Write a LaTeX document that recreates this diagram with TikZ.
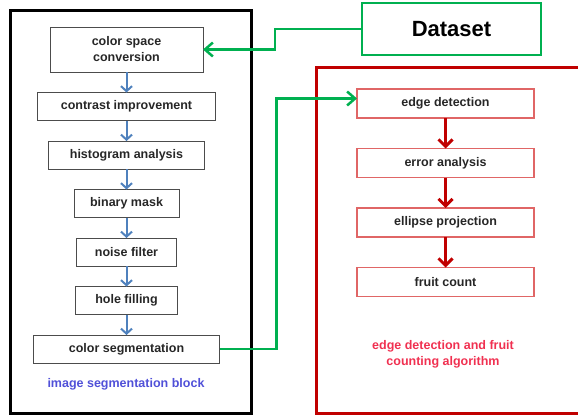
\documentclass[tikz,border=0pt]{standalone}
\usepackage{fontspec}
\setmainfont{Liberation Sans}
\usetikzlibrary{arrows.meta,positioning}
\definecolor{segblue}{HTML}{4F81BD}
\definecolor{dsgreen}{HTML}{00B050}
\definecolor{algred}{HTML}{C00000}
\definecolor{boxred}{HTML}{E06666}
\definecolor{lblblue}{HTML}{5050D8}
\definecolor{lblred}{HTML}{F03050}
\tikzset{
  segbox/.style={draw=black!70, line width=1pt, outer sep=0pt, align=center, minimum height=28pt, inner sep=2pt, text=black!85, font=\bfseries\fontsize{12.5}{16}\selectfont},
  edgebox/.style={draw=boxred, line width=1.2pt, outer sep=0pt, align=center, minimum width=177pt, minimum height=29pt, inner sep=2pt, text=black!85, font=\bfseries\fontsize{12.5}{16}\selectfont},
  dsbox/.style={draw=dsgreen, line width=2.5pt, outer sep=0pt, align=center, minimum width=179pt, minimum height=52pt, font=\bfseries\fontsize{22}{26}\selectfont},
  blocklabel/.style={align=center, inner sep=0pt, font=\bfseries\fontsize{12.5}{16}\selectfont},
  bluearrow/.style={-{Straight Barb[length=5pt,width=11pt]}, segblue, line width=2pt},
  redarrow/.style={-{Straight Barb[length=7pt,width=14pt]}, algred, line width=3pt},
  greenarrow/.style={-{Straight Barb[length=8pt,width=14pt]}, dsgreen, line width=2.5pt}
}
\begin{document}
\begin{tikzpicture}[x=1pt, y=-1pt, node distance=20.5pt]
  \useasboundingbox (0,0) rectangle (578,418);
  % frames
  \draw[line width=3pt] (10.5,10.5) rectangle (251.5,413.5);
  \draw[algred, line width=3pt] (578,67.5) -- (316.5,67.5) -- (316.5,413.5) -- (578,413.5);
  % image segmentation block
  \node[segbox, minimum width=153pt, minimum height=45pt] (cs) at (126.5,49.5) {color space\\conversion};
  \node[segbox, minimum width=178pt, below=of cs] (ci) {contrast improvement};
  \node[segbox, minimum width=156pt, below=of ci] (hist) {histogram analysis};
  \node[segbox, minimum width=105pt, below=of hist] (bin) {binary mask};
  \node[segbox, minimum width=100pt, below=of bin] (noise) {noise filter};
  \node[segbox, minimum width=102pt, below=of noise] (hole) {hole filling};
  \node[segbox, minimum width=186pt, below=of hole] (seg) {color segmentation};
  \node[blocklabel, text=lblblue] (seglbl) at (126,384) {image segmentation block};
  % edge detection and fruit counting
  \node[dsbox] (ds) at (451.5,29) {Dataset};
  \node[edgebox] (ed) at (445.5,103.5) {edge detection};
  \node[edgebox, below=30.5pt of ed] (ea) {error analysis};
  \node[edgebox, below=30.5pt of ea] (ep) {ellipse projection};
  \node[edgebox, below=30.5pt of ep] (fc) {fruit count};
  \node[blocklabel, text=lblred] (edlbl) at (443,354) {edge detection and fruit\\counting algorithm};
  % connectors
  \foreach \a/\b in {cs/ci, ci/hist, hist/bin, bin/noise, noise/hole, hole/seg}
    \draw[bluearrow] (\a) -- (\b);
  \foreach \a/\b in {ed/ea, ea/ep, ep/fc}
    \draw[redarrow] (\a) -- (\b);
  \draw[greenarrow] (ds.west) -- ++(-87,0) |- (cs.east);
  \draw[greenarrow] (seg.east) -- ++(57,0) |- ([yshift=5pt]ed.west);
\end{tikzpicture}
\end{document}
